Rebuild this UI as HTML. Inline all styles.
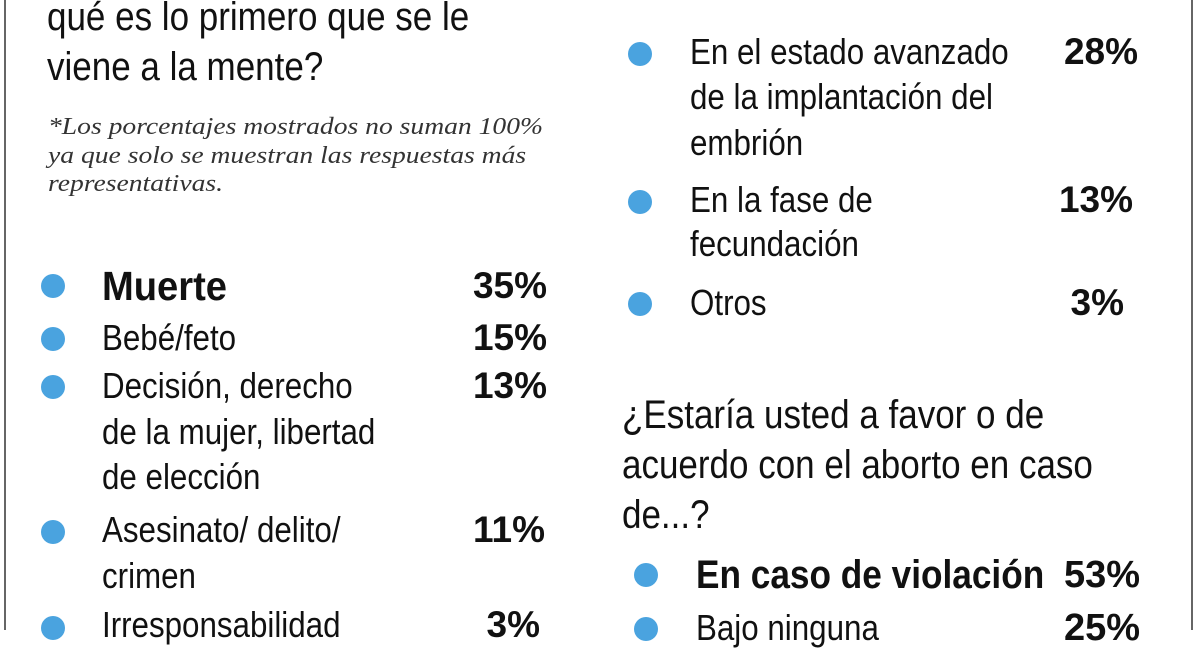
<!DOCTYPE html>
<html><head><meta charset="utf-8"><style>
body{margin:0;width:1200px;height:630px;overflow:hidden;background:#fff;position:relative;font-family:"Liberation Sans",sans-serif;color:#111}
.t{position:absolute;white-space:nowrap;height:50px;line-height:50px;transform-origin:left center}
.q{font-size:40px;transform:scaleX(0.875)}
.i{font-size:36px;transform:scaleX(0.87)}
.b{font-weight:bold}
.p{font-size:37px;font-weight:bold;text-align:right;width:120px}
.n{position:absolute;font-family:"Liberation Serif",serif;font-style:italic;font-size:24px;color:#333;white-space:nowrap;transform:scaleX(1.15);transform-origin:left center}
.d{position:absolute;width:24px;height:24px;border-radius:50%;background:#4aa3df}
.v{position:absolute;top:0;width:2px;height:630px;background:#666}
</style></head><body>
<div class="v" style="left:4px"></div>
<div class="v" style="left:1191px"></div>

<div class="t q" style="left:47px;top:-8px">qué es lo primero que se le</div>
<div class="t q" style="left:47px;top:42px">viene a la mente?</div>
<div class="n" style="left:48px;top:114px">*Los porcentajes mostrados no suman 100%</div>
<div class="n" style="left:48px;top:143px">ya que solo se muestran las respuestas más</div>
<div class="n" style="left:48px;top:171px">representativas.</div>

<div class="d" style="left:41px;top:274px"></div>
<div class="t b" style="left:102px;top:261px;font-size:41px;transform:scaleX(0.93)">Muerte</div>
<div class="t p" style="left:427px;top:261px">35%</div>

<div class="d" style="left:41px;top:327px"></div>
<div class="t i" style="left:102px;top:313px">Bebé/feto</div>
<div class="t p" style="left:427px;top:313px">15%</div>

<div class="d" style="left:41px;top:375px"></div>
<div class="t i" style="left:102px;top:361px">Decisión, derecho</div>
<div class="t i" style="left:102px;top:407px">de la mujer, libertad</div>
<div class="t i" style="left:102px;top:452px">de elección</div>
<div class="t p" style="left:427px;top:361px">13%</div>

<div class="d" style="left:41px;top:520px"></div>
<div class="t i" style="left:102px;top:505px">Asesinato/ delito/</div>
<div class="t i" style="left:102px;top:551px">crimen</div>
<div class="t p" style="left:425px;top:505px">11%</div>

<div class="d" style="left:41px;top:616px"></div>
<div class="t i" style="left:102px;top:600px">Irresponsabilidad</div>
<div class="t p" style="left:420px;top:600px">3%</div>

<div class="d" style="left:628px;top:42px"></div>
<div class="t i" style="left:690px;top:27px">En el estado avanzado</div>
<div class="t i" style="left:690px;top:72px">de la implantación del</div>
<div class="t i" style="left:690px;top:118px">embrión</div>
<div class="t p" style="left:1018px;top:27px">28%</div>

<div class="d" style="left:628px;top:190px"></div>
<div class="t i" style="left:690px;top:175px">En la fase de</div>
<div class="t i" style="left:690px;top:219px">fecundación</div>
<div class="t p" style="left:1013px;top:175px">13%</div>

<div class="d" style="left:628px;top:292px"></div>
<div class="t i" style="left:690px;top:278px">Otros</div>
<div class="t p" style="left:1004px;top:278px">3%</div>

<div class="t q" style="left:622px;top:390px">¿Estaría usted a favor o de</div>
<div class="t q" style="left:622px;top:440px">acuerdo con el aborto en caso</div>
<div class="t q" style="left:622px;top:490px">de...?</div>

<div class="d" style="left:634px;top:563px"></div>
<div class="t b" style="left:696px;top:550px;font-size:40px;transform:scaleX(0.88)">En caso de violación</div>
<div class="t p" style="left:1020px;top:550px;font-size:38px">53%</div>

<div class="d" style="left:634px;top:617px"></div>
<div class="t i" style="left:696px;top:603px">Bajo ninguna</div>
<div class="t p" style="left:1020px;top:603px;font-size:38px">25%</div>
</body></html>
